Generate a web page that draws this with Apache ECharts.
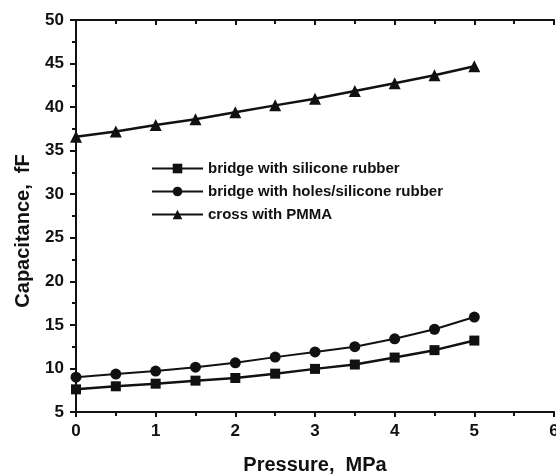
<!DOCTYPE html>
<html>
<head>
<meta charset="utf-8">
<script src="https://cdn.jsdelivr.net/npm/echarts@6/dist/echarts.min.js"></script>
<style>
  html, body { margin: 0; padding: 0; background: #fff; }
  #chart { width: 556px; height: 475px; }
</style>
</head>
<body>
<div id="chart"></div>
<script>
// pressure, MPa
const pressure = [0, 0.5, 1, 1.5, 2, 2.5, 3, 3.5, 4, 4.5, 5];
// capacitance, fF
const siliconeRubber = [7.6, 7.95, 8.25, 8.6, 8.9, 9.4, 9.95, 10.45, 11.25, 12.1, 13.2];
const holesSilicone = [9.0, 9.35, 9.7, 10.15, 10.65, 11.3, 11.9, 12.5, 13.4, 14.5, 15.9];
const crossPMMA = [36.6, 37.2, 37.95, 38.6, 39.4, 40.2, 40.95, 41.85, 42.75, 43.65, 44.7];

const seriesNames = [
  "bridge with silicone rubber",
  "bridge with holes/silicone rubber",
  "cross with PMMA"
];

const font = "Liberation Sans, Arial, sans-serif";
const black = "#111";

function pairs(vals) {
  return pressure.map((p, i) => [p, vals[i]]);
}

let chart = echarts.init(document.getElementById("chart"));

let axisLine = { lineStyle: { color: black, width: 2 } };

let option = {
  animation: false,
  backgroundColor: "#fff",
  grid: {
    left: 76,
    right: 2,
    top: 20,
    bottom: 63,
    containLabel: false,
    outerBoundsMode: "none"
  },
  legend: {
    orient: "vertical",
    left: 146,
    top: 156,
    itemWidth: 51,
    itemHeight: 12,
    itemGap: 8,
    textStyle: {
      fontFamily: font,
      fontWeight: "bold",
      fontSize: 15,
      color: black
    },
    data: seriesNames
  },
  xAxis: [
    {
      type: "value",
      min: 0,
      max: 6,
      interval: 1,
      name: "Pressure,  MPa",
      nameLocation: "middle",
      nameGap: 43,
      nameTextStyle: { fontFamily: font, fontWeight: "bold", fontSize: 20, color: black },
      axisLine,
      axisTick: { show: true, inside: false, length: 5, lineStyle: { color: black, width: 2 } },
      minorTick: { show: true, splitNumber: 2, length: 4, lineStyle: { color: black, width: 2 } },
      axisLabel: { fontFamily: font, fontWeight: "bold", fontSize: 17, color: black, margin: 11 },
      splitLine: { show: false }
    },
    {
      type: "value",
      position: "top",
      min: 0,
      max: 6,
      interval: 1,
      axisLine,
      axisTick: { show: true, inside: true, length: 5, lineStyle: { color: black, width: 2 } },
      minorTick: { show: true, splitNumber: 2, length: 4, lineStyle: { color: black, width: 2 } },
      axisLabel: { show: false },
      splitLine: { show: false }
    }
  ],
  yAxis: [
    {
      type: "value",
      min: 5,
      max: 50,
      interval: 5,
      name: "Capacitance,  fF",
      nameLocation: "middle",
      nameGap: 43,
      nameTextStyle: {
        fontFamily: font,
        fontWeight: "bold",
        fontSize: 20,
        color: black,
        padding: [0, 30, 0, 0]
      },
      axisLine,
      axisTick: { show: true, inside: false, length: 6, lineStyle: { color: black, width: 2 } },
      minorTick: { show: true, splitNumber: 2, length: 3, lineStyle: { color: black, width: 2 } },
      axisLabel: { fontFamily: font, fontWeight: "bold", fontSize: 17, color: black, margin: 12 },
      splitLine: { show: false }
    },
    {
      type: "value",
      position: "right",
      min: 5,
      max: 50,
      interval: 5,
      axisLine,
      axisTick: { show: true, inside: true, length: 5, lineStyle: { color: black, width: 2 } },
      minorTick: { show: true, splitNumber: 2, length: 4, lineStyle: { color: black, width: 2 } },
      axisLabel: { show: false },
      splitLine: { show: false }
    }
  ],
  series: [
    {
      name: seriesNames[0],
      type: "line",
      symbol: "rect",
      symbolSize: 10,
      lineStyle: { color: black, width: 2.5 },
      itemStyle: { color: black },
      data: pairs(siliconeRubber)
    },
    {
      name: seriesNames[1],
      type: "line",
      symbol: "circle",
      symbolSize: 11,
      lineStyle: { color: black, width: 2 },
      itemStyle: { color: black },
      data: pairs(holesSilicone)
    },
    {
      name: seriesNames[2],
      type: "line",
      symbol: "triangle",
      symbolSize: 12,
      lineStyle: { color: black, width: 2.5 },
      itemStyle: { color: black },
      data: pairs(crossPMMA)
    }
  ]
};

chart.setOption(option, true);
window.addEventListener("resize", () => {
  chart.resize();
});
</script>
</body>
</html>
